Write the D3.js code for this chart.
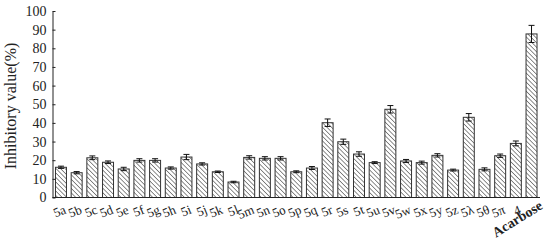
<!DOCTYPE html>
<html><head><meta charset="utf-8">
<script src="https://cdn.jsdelivr.net/npm/d3@7"></script>
<style>body{margin:0;background:#fff}svg{display:block}</style>
</head><body>
<svg id="c" width="550" height="248"></svg>
<script>
const categories = ["5a","5b","5c","5d","5e","5f","5g","5h","5i","5j","5k","5l","5m","5n","5o","5p","5q","5r","5s","5t","5u","5v","5w","5x","5y","5z","5λ","5θ","5π","4","Acarbose"];
const values = [16.2,13.3,21.3,18.9,15.3,19.9,19.9,15.8,21.7,18.0,13.8,8.3,21.5,21.0,21.0,13.8,15.8,40.1,29.9,23.3,18.7,47.3,19.6,18.7,22.6,14.7,43.0,15.1,22.4,29.0,87.7];
const errors = [0.6,0.6,1.0,0.7,0.9,0.9,0.9,0.6,1.4,0.6,0.4,0.4,0.9,0.9,0.9,0.5,0.8,2.0,1.4,1.2,0.5,2.0,0.8,0.8,0.9,0.5,2.0,0.8,0.9,1.3,4.6];
const yTicks = [0,10,20,30,40,50,60,70,80,90,100];

const svg = d3.select("#c");
const defs = svg.append("defs");
const pat = defs.append("pattern").attr("id","hatch").attr("patternUnits","userSpaceOnUse")
  .attr("width",3.2).attr("height",3.2).attr("patternTransform","rotate(-45)");
pat.append("rect").attr("width",3.2).attr("height",3.2).attr("fill","#fff");
pat.append("line").attr("x1",0).attr("y1",0).attr("x2",0).attr("y2",3.2).attr("stroke","#333").attr("stroke-width",1.1);

const x = d3.scaleBand().domain(categories).range([52.5,540]).paddingInner(0.3).paddingOuter(0.19);
const y = d3.scaleLinear().domain([0,100]).range([197.5,11]);

// bars
svg.append("g").selectAll("rect").data(values).join("rect")
  .attr("x",(d,i)=>x(categories[i])).attr("y",d=>y(d))
  .attr("width",x.bandwidth()).attr("height",d=>y(0)-y(d))
  .attr("fill","url(#hatch)").attr("stroke","#333").attr("stroke-width",1);

// error bars
const eg = svg.append("g").attr("stroke","#111").attr("stroke-width",1);
values.forEach((v,i)=>{
  const cx = x(categories[i]) + x.bandwidth()/2;
  const e = errors[i];
  eg.append("line").attr("x1",cx).attr("x2",cx).attr("y1",y(v+e)).attr("y2",y(v-e));
  eg.append("line").attr("x1",cx-3).attr("x2",cx+3).attr("y1",y(v+e)).attr("y2",y(v+e));
  eg.append("line").attr("x1",cx-3).attr("x2",cx+3).attr("y1",y(v-e)).attr("y2",y(v-e));
});

// y axis
const ya = svg.append("g").attr("transform","translate(52.5,0)")
  .call(d3.axisLeft(y).tickValues(yTicks).tickSizeInner(-3).tickSizeOuter(0).tickPadding(6));
ya.select(".domain").attr("stroke","#222");
ya.selectAll(".tick line").attr("stroke","#222");
ya.selectAll("text").attr("font-family","'Liberation Serif',serif").attr("font-size",14).attr("fill","#222");

// x axis baseline
svg.append("line").attr("x1",52.5).attr("x2",540).attr("y1",y(0)).attr("y2",y(0)).attr("stroke","#222");

// x labels
svg.append("g").selectAll("text").data(categories).join("text")
  .attr("transform",(d,i)=>{
    const cx = x(d)+x.bandwidth()/2;
    return d==="Acarbose" ? `translate(${cx+12},${208}) rotate(-32)` : `translate(${cx+6},${213}) rotate(-22)`;
  })
  .attr("text-anchor","end")
  .attr("font-family","'Liberation Serif',serif")
  .attr("font-size",d=>d==="Acarbose"?14:13)
  .attr("font-weight",d=>d==="Acarbose"?"bold":"normal")
  .attr("fill","#222")
  .text(d=>d);

// y label
svg.append("text").attr("transform","translate(16,106) rotate(-90)").attr("text-anchor","middle")
  .attr("font-family","'Liberation Serif',serif").attr("font-size",16).attr("fill","#222")
  .text("Inhibitory value(%)");
</script>
</body></html>
